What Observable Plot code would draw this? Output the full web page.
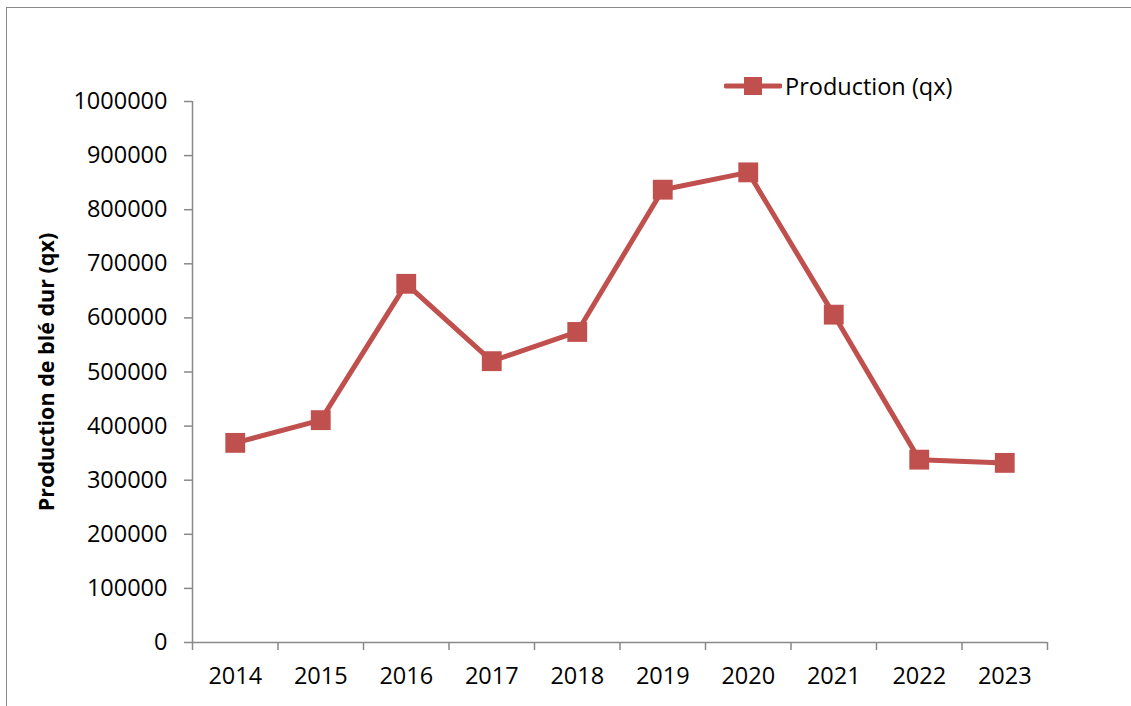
<!DOCTYPE html>
<html>
<head>
<meta charset="utf-8">
<script src="https://cdn.jsdelivr.net/npm/d3@7"></script>
<script src="https://cdn.jsdelivr.net/npm/@observablehq/plot@0.6"></script>
<style>
  html, body { margin: 0; padding: 0; background: #fff; overflow: hidden; }
  #wrap { position: relative; width: 1131px; height: 706px; overflow: hidden; font-family: "Open Sans", sans-serif; }
  #frame { position: absolute; left: 6px; top: 7px; width: 1300px; height: 900px; border: 1.5px solid #8a8a8a; box-sizing: border-box; }
  #chart { position: absolute; left: 0; top: 0; }
  #legend { position: absolute; left: 724px; top: 70px; display: flex; align-items: center; font-size: 23.5px; color: #000; }
  #legend span { margin-left: 3px; }
</style>
</head>
<body>
<div id="wrap">
  <div id="frame"></div>
  <div id="chart"></div>
  <div id="legend"></div>
</div>
<script>
const years = [2014, 2015, 2016, 2017, 2018, 2019, 2020, 2021, 2022, 2023];
const production = [369000, 411000, 663000, 520000, 574000, 837000, 869000, 606000, 338000, 332000];
const yTicks = [0, 100000, 200000, 300000, 400000, 500000, 600000, 700000, 800000, 900000, 1000000];
const seriesName = "Production (qx)";
const yTitle = "Production de blé dur (qx)";

const data = years.map((y, i) => ({year: y, value: production[i]}));
const boundaries = d3.range(years.length + 1).map(i => years[0] - 0.5 + i);

const red = "#C0504D";
const axisColor = "#898989";

const chart = Plot.plot({
  width: 1131,
  height: 706,
  marginLeft: 192,
  marginRight: 84,
  marginTop: 101,
  marginBottom: 64,
  style: {fontFamily: "'Open Sans', sans-serif", fontSize: "23.5px", color: "#000", background: "transparent"},
  x: {type: "linear", domain: [boundaries[0], boundaries[boundaries.length - 1]]},
  y: {domain: [0, 1000000]},
  marks: [
    Plot.axisY({ticks: yTicks, tickSize: 8, tickPadding: 17, tickFormat: d => String(d), stroke: axisColor, strokeWidth: 1.5, strokeOpacity: 1, label: null, fontSize: 23.5}),
    Plot.axisX({ticks: boundaries, tickSize: 8, tickFormat: () => "", stroke: axisColor, strokeWidth: 1.5, strokeOpacity: 1, label: null}),
    Plot.axisX({ticks: years, tickSize: 0, tickPadding: 25, tickFormat: d => String(d), label: null, fontSize: 23.5}),
    Plot.ruleY([0], {stroke: axisColor, strokeWidth: 1.5}),
    Plot.ruleX([boundaries[0]], {stroke: axisColor, strokeWidth: 1.5}),
    Plot.text([yTitle], {frameAnchor: "left", dx: -145, rotate: -90, textAnchor: "middle", fontWeight: "bold", fontSize: 21.5, fill: "#000"}),
    Plot.line(data, {x: "year", y: "value", stroke: red, strokeWidth: 5, strokeLinejoin: "miter"}),
    Plot.dot(data, {x: "year", y: "value", symbol: "square", r: 11.2, fill: red, stroke: "none"})
  ]
});
document.getElementById("chart").appendChild(chart);

document.getElementById("legend").innerHTML =
  `<svg width="58" height="24"><line x1="2" x2="56" y1="12" y2="12" stroke="${red}" stroke-width="5" stroke-linecap="round"/><rect x="20" y="3" width="18" height="18" fill="${red}"/></svg><span>${seriesName}</span>`;
</script>
</body>
</html>
